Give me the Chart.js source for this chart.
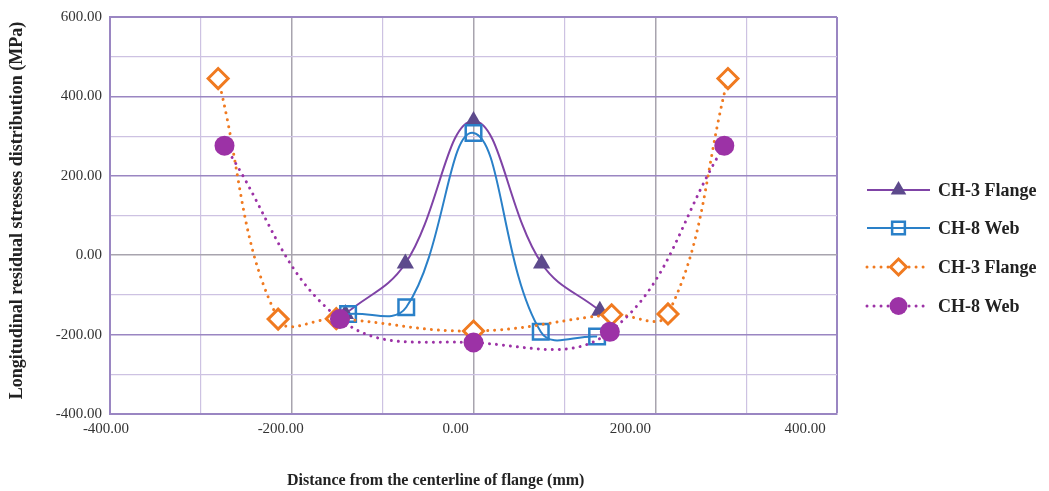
<!DOCTYPE html>
<html><head><meta charset="utf-8">
<script src="https://cdn.jsdelivr.net/npm/chart.js@4"></script>
<style>html,body{margin:0;padding:0;background:#fff;} #wrap{width:1049px;height:491px;position:relative;}</style>
</head><body><div id="wrap"><canvas id="c"></canvas></div>
<script>
// ---- data ----
const seriesNames = ['CH-3 Flange', 'CH-8 Web', 'CH-3 Flange', 'CH-8 Web'];
const flangeAX = [-141, -75, 0, 75, 139];
const flangeAY = [-148, -21, 338, -21, -140];
const webAX = [-138, -74, 0, 74, 136];
const webAY = [-148, -131, 308, -193, -205];
const flangeBX = [-281, -215, -151, 0, 152, 214, 280];
const flangeBY = [445, -161, -160, -191, -150, -148, 445];
const webBX = [-274, -147, 0, 150, 276];
const webBY = [276, -161, -220, -193, 276];
const xTickLabels = [-400, -200, 0, 200, 400];
const yTickLabels = [-400, -200, 0, 200, 400, 600];
const xTitle = 'Distance from the centerline of flange (mm)';
const yTitle = 'Longitudinal residual stresses distribution (MPa)';

const pts = (xs, ys) => xs.map((x, i) => ({x: x, y: ys[i]}));
const SERIF = "'Liberation Serif', 'DejaVu Serif', serif";
const BORDER = '#9a86c2';
const MAJOR = '#9a86c2';
const MINOR = '#cdc2e2';
const ZERO = '#a8a4ae';

function drawMarker(ctx, style, x, y, r, fill, stroke, bw) {
  ctx.save();
  ctx.beginPath();
  if (style === 'triangle') {
    ctx.moveTo(x, y - r);
    ctx.lineTo(x + r * 0.866, y + r * 0.5);
    ctx.lineTo(x - r * 0.866, y + r * 0.5);
    ctx.closePath();
  } else if (style === 'rect') {
    const s = r * Math.SQRT1_2;
    ctx.rect(x - s, y - s, 2 * s, 2 * s);
  } else if (style === 'rectRot') {
    ctx.moveTo(x, y - r); ctx.lineTo(x + r, y); ctx.lineTo(x, y + r); ctx.lineTo(x - r, y); ctx.closePath();
  } else {
    ctx.arc(x, y, r, 0, Math.PI * 2);
  }
  ctx.fillStyle = fill; ctx.fill();
  if (bw > 0) { ctx.lineWidth = bw; ctx.strokeStyle = stroke; ctx.stroke(); }
  ctx.restore();
}

const sidePlugin = {
  id: 'side',
  afterDraw(chart) {
    const ctx = chart.ctx;
    const a = chart.chartArea;
    const xs = chart.scales.x;
    // x tick labels (slightly shifted left, as in the source figure)
    ctx.save();
    ctx.font = '15px ' + SERIF;
    ctx.fillStyle = '#333';
    ctx.textAlign = 'center';
    ctx.textBaseline = 'middle';
    xTickLabels.forEach(v => {
      ctx.fillText(v.toFixed(2), xs.getPixelForValue(v) - 18 - v * 0.035, a.bottom + 15);
    });
    ctx.restore();
    // x-axis title
    ctx.save();
    ctx.font = 'bold 16px ' + SERIF;
    ctx.fillStyle = '#222';
    ctx.textAlign = 'center';
    ctx.textBaseline = 'middle';
    ctx.fillText(xTitle, a.left + (a.right - a.left) * 0.448, 481);
    ctx.restore();
    // y-axis title
    ctx.save();
    ctx.translate(17, (a.top + a.bottom) / 2 - 5);
    ctx.rotate(-Math.PI / 2);
    ctx.font = 'bold 18px ' + SERIF;
    ctx.fillStyle = '#222';
    ctx.textAlign = 'center';
    ctx.textBaseline = 'middle';
    ctx.fillText(yTitle, 0, 0);
    ctx.restore();
    // legend
    const ys = [190, 228, 267, 306];
    chart.data.datasets.forEach((d, i) => {
      const y = ys[i];
      const x0 = a.right + 30, x1 = a.right + 93, xm = (x0 + x1) / 2;
      ctx.save();
      ctx.strokeStyle = d.borderColor;
      ctx.lineWidth = d.borderWidth;
      ctx.lineCap = d.borderCapStyle || 'butt';
      ctx.setLineDash(d.borderDash || []);
      ctx.beginPath(); ctx.moveTo(x0, y); ctx.lineTo(x1, y); ctx.stroke();
      ctx.restore();
      drawMarker(ctx, d.pointStyle, xm, y, d.legendRadius, d.pointBackgroundColor, d.pointBorderColor, d.pointBorderWidth);
      ctx.save();
      ctx.font = 'bold 18px ' + SERIF;
      ctx.fillStyle = '#222';
      ctx.textAlign = 'left';
      ctx.textBaseline = 'middle';
      ctx.fillText(d.label, x1 + 8, y + 1);
      ctx.restore();
    });
  }
};

const gridColor = (ctx, axis) => {
  const v = ctx.tick ? ctx.tick.value : 0;
  const max = axis === 'x' ? 400 : 600;
  if (v === max) return BORDER;
  if (v === 0) return ZERO;
  if (axis === 'x' && Math.abs(v) === 200) return ZERO;
  if (v % 200 === 0) return MAJOR;
  return MINOR;
};
const gridWidth = (ctx, axis) => {
  const v = ctx.tick ? ctx.tick.value : 0;
  const max = axis === 'x' ? 400 : 600;
  if (v === max) return 2;
  if (v % 200 === 0) return 1.5;
  return 1.2;
};

new Chart(document.getElementById('c'), {
  type: 'line',
  data: {
    datasets: [
      {
        label: seriesNames[0], data: pts(flangeAX, flangeAY), order: 4,
        borderColor: '#7f43a6', borderWidth: 2, tension: 0.4,
        pointStyle: 'triangle', pointRadius: 10, legendRadius: 9,
        pointBackgroundColor: '#5d4a8c', pointBorderColor: '#5d4a8c', pointBorderWidth: 0
      },
      {
        label: seriesNames[1], data: pts(webAX, webAY), order: 3,
        borderColor: '#2a80c8', borderWidth: 2, tension: 0.4,
        pointStyle: 'rect', pointRadius: 11, legendRadius: 9,
        pointBackgroundColor: 'rgba(255,255,255,0)', pointBorderColor: '#2a80c8', pointBorderWidth: 2.5
      },
      {
        label: seriesNames[2], data: pts(flangeBX, flangeBY), order: 2,
        borderColor: '#f07a20', borderWidth: 3, tension: 0.4,
        borderDash: [0.01, 7], borderCapStyle: 'round',
        pointStyle: 'rectRot', pointRadius: 10, legendRadius: 8,
        pointBackgroundColor: '#ffffff', pointBorderColor: '#f07a20', pointBorderWidth: 3
      },
      {
        label: seriesNames[3], data: pts(webBX, webBY), order: 1,
        borderColor: '#9c32a6', borderWidth: 3, tension: 0.4,
        borderDash: [0.01, 7], borderCapStyle: 'round',
        pointStyle: 'circle', pointRadius: 10, legendRadius: 9,
        pointBackgroundColor: '#9c32a6', pointBorderColor: '#9c32a6', pointBorderWidth: 0
      }
    ]
  },
  options: {
    responsive: true, maintainAspectRatio: false, animation: false,
    layout: {padding: {left: 0, right: 212, top: 13, bottom: 0}},
    plugins: {legend: {display: false}, tooltip: {enabled: false}},
    elements: {point: {hoverRadius: 10}},
    scales: {
      x: {
        type: 'linear', min: -400, max: 400,
        afterFit: s => { s.height = 77; },
        ticks: {stepSize: 100, display: false, autoSkip: false},
        grid: {color: c => gridColor(c, 'x'), lineWidth: c => gridWidth(c, 'x'), drawTicks: false},
        border: {color: BORDER, width: 2}
      },
      y: {
        type: 'linear', min: -400, max: 600,
        afterFit: s => { s.width = 110; },
        ticks: {
          stepSize: 100, padding: 8, autoSkip: false,
          color: '#333', font: {family: SERIF, size: 15},
          callback: v => yTickLabels.includes(v) ? v.toFixed(2) : ''
        },
        grid: {color: c => gridColor(c, 'y'), lineWidth: c => gridWidth(c, 'y'), drawTicks: false},
        border: {color: BORDER, width: 2}
      }
    }
  },
  plugins: [sidePlugin]
});
</script>
</body></html>
